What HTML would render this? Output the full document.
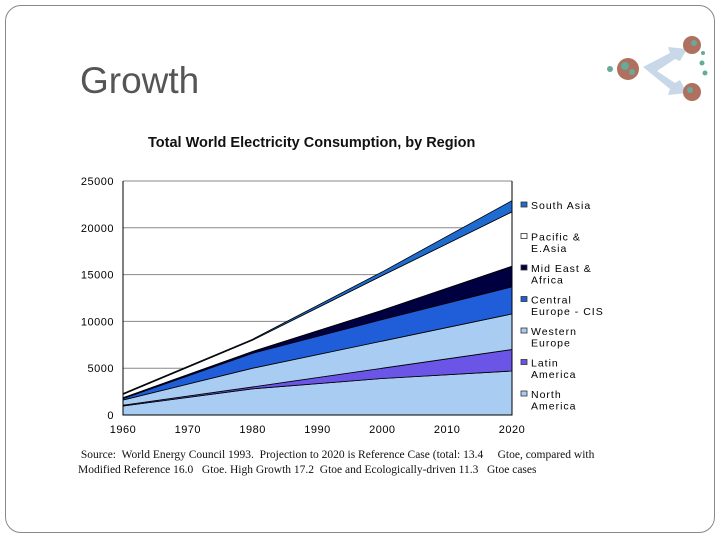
<!DOCTYPE html>
<html><head><meta charset="utf-8"><style>
body{margin:0;width:720px;height:540px;background:#fff;font-family:"Liberation Sans",sans-serif;overflow:hidden;position:relative}
.frame{position:absolute;left:5px;top:5px;width:708px;height:526px;border:1px solid #888;border-radius:16px}
.title{position:absolute;left:80px;top:60px;font-size:37px;color:#555}
.ct{position:absolute;left:148px;top:135px;font-weight:bold;font-size:14.5px;color:#111}
.src{position:absolute;left:78px;top:448px;font-family:"Liberation Serif",serif;font-size:11.5px;color:#111;line-height:15px;white-space:nowrap}
</style></head><body>
<div class="frame"></div>
<div class="title">Growth</div>
<svg style="position:absolute;left:595px;top:35px" width="115" height="70">
<path d="M48 32 L75 18 L73 12 L92 14 L85 26 L80 24 L62 36 L80 48 L85 45 L92 58 L73 60 L75 54 Z" fill="#c8d8e8"/>
<circle cx="33" cy="34" r="11" fill="#b07060"/><circle cx="30" cy="31" r="4" fill="#6a9"/><circle cx="37" cy="37" r="3" fill="#6a9"/>
<circle cx="97" cy="10" r="9" fill="#b07060"/><circle cx="99" cy="8" r="3" fill="#6a9"/>
<circle cx="97" cy="57" r="9" fill="#b07060"/><circle cx="95" cy="55" r="3" fill="#6a9"/>
<circle cx="15" cy="34" r="3" fill="#6a9"/><circle cx="107" cy="28" r="2.5" fill="#6a9"/><circle cx="110" cy="38" r="2.5" fill="#6a9"/><circle cx="108" cy="18" r="2" fill="#6a9"/>
</svg>
<div class="ct">Total World Electricity Consumption, by Region</div>
<svg id="chart" style="position:absolute;left:0;top:0" width="720" height="540"></svg>
<div class="src">&nbsp;Source:&nbsp; World Energy Council 1993.&nbsp; Projection to 2020 is Reference Case (total: 13.4&nbsp;&nbsp;&nbsp;&nbsp; Gtoe, compared with<br>Modified Reference 16.0&nbsp;&nbsp; Gtoe. High Growth 17.2&nbsp; Gtoe and Ecologically-driven 11.3&nbsp;&nbsp; Gtoe cases</div>
<script>
const years=[1960,1980,2000,2020];
const northAmerica=[960,2800,3900,4700];
const latinAmerica=[90,200,1100,2300];
const westernEurope=[550,2000,2900,3800];
const centralEurope=[150,1600,2300,2900];
const midEast=[100,200,1000,2200];
const pacific=[350,1200,3700,5800];
const southAsia=[100,100,400,1200];
const yTicks=[0,5000,10000,15000,20000,25000];
const xTicks=[1960,1970,1980,1990,2000,2010,2020];
const seriesNames=["North America","Latin America","Western Europe","Central Europe - CIS","Mid East & Africa","Pacific & E.Asia","South Asia"];
const legendLabels=[["South Asia"],["Pacific &","E.Asia"],["Mid East &","Africa"],["Central","Europe - CIS"],["Western","Europe"],["Latin","America"],["North","America"]];
const series=[northAmerica,latinAmerica,westernEurope,centralEurope,midEast,pacific,southAsia];
const colors=["#a9cdf2","#6a55e6","#a9cdf2","#1f5ed8","#000040","#ffffff","#1f6bd0"];
const NS="http://www.w3.org/2000/svg",svg=document.getElementById('chart');
const X0=123,X1=512,Y0=415,Y1=181;
const xs=v=>X0+(v-1960)/60*(X1-X0), ys=v=>Y0-v/25000*(Y0-Y1);
function mk(t,a){const e=document.createElementNS(NS,t);for(const k in a)e.setAttribute(k,a[k]);svg.appendChild(e);return e;}
yTicks.forEach(t=>{if(t>0){const g=mk('line',{x1:X0,x2:X1,y1:ys(t),y2:ys(t),stroke:'#888','stroke-width':1});}
const l=mk('text',{x:X0-9,y:ys(t)+4,'text-anchor':'end','font-size':11,'font-family':'Liberation Sans','letter-spacing':'0.5'});l.textContent=t;});
let base=years.map(()=>0);
series.forEach((s,i)=>{const top=base.map((b,j)=>b+s[j]);
let d='M'+years.map((y,j)=>xs(y)+','+ys(top[j])).join(' L')+' L'+years.map((y,j)=>xs(y)+','+ys(base[j])).reverse().join(' L')+'Z';
const p=mk('path',{d:d,fill:colors[i],stroke:'#000','stroke-width':0.8});


base=top;});
const ax=mk('path',{d:`M${X0},${Y1} L${X0},${Y0} L${X1},${Y0} L${X1},${Y1}`,fill:'none',stroke:'#000','stroke-width':1});

xTicks.forEach(t=>{const l=mk('text',{x:xs(t),y:Y0+18,'text-anchor':'middle','font-size':11,'font-family':'Liberation Sans','letter-spacing':'0.5'});l.textContent=t;});
legendLabels.forEach((lab,i)=>{const y=206+i*31.5;const ci=6-i;
const r=mk('rect',{x:521,y:y-4,width:6,height:5,fill:colors[ci],stroke:'#333','stroke-width':0.8});
lab.forEach((ln,k)=>{const t=mk('text',{x:531,y:y+3+k*11.5,'font-size':10.5,'font-family':'Liberation Sans','letter-spacing':'1'});t.textContent=ln;});});
</script>
</body></html>
